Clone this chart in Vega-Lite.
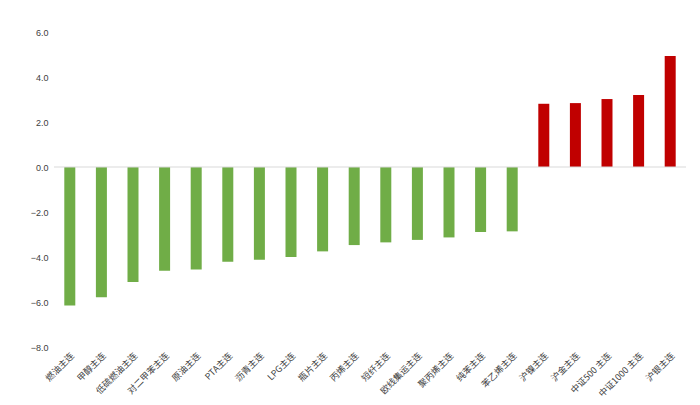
{
  "$schema": "https://vega.github.io/schema/vega-lite/v6.json",
  "width": 632,
  "height": 315,
  "autosize": {"type": "none"},
  "padding": {"left": 54, "top": 32, "right": 14, "bottom": 58},
  "background": "white",
  "config": {"view": {"stroke": null}, "font": "Noto Sans CJK SC"},
  "data": {"values": [
    {"name": "燃油主连", "v": -6.15},
    {"name": "甲醇主连", "v": -5.79},
    {"name": "低硫燃油主连", "v": -5.11},
    {"name": "对二甲苯主连", "v": -4.61},
    {"name": "原油主连", "v": -4.56},
    {"name": "PTA主连", "v": -4.21},
    {"name": "沥青主连", "v": -4.12},
    {"name": "LPG主连", "v": -4.0},
    {"name": "瓶片主连", "v": -3.75},
    {"name": "丙烯主连", "v": -3.47},
    {"name": "短纤主连", "v": -3.35},
    {"name": "欧线集运主连", "v": -3.24},
    {"name": "聚丙烯主连", "v": -3.13},
    {"name": "纯苯主连", "v": -2.89},
    {"name": "苯乙烯主连", "v": -2.86},
    {"name": "沪镍主连", "v": 2.81},
    {"name": "沪金主连", "v": 2.84},
    {"name": "中证500 主连", "v": 3.02},
    {"name": "中证1000 主连", "v": 3.2},
    {"name": "沪银主连", "v": 4.93}
  ]},
  "layer": [
    {
      "mark": {"type": "bar", "width": 11},
      "encoding": {
        "x": {"field": "name", "type": "nominal", "sort": null,
          "axis": {"title": null, "labelAngle": -45, "domain": false, "ticks": false, "labelFontSize": 9, "labelColor": "#404040", "labelPadding": 4, "labelFont": "Noto Sans CJK SC"}},
        "y": {"field": "v", "type": "quantitative", "scale": {"domain": [-8, 6]},
          "axis": {"title": null, "values": [-8, -6, -4, -2, 0, 2, 4, 6], "format": ".1f", "grid": false, "domain": false, "ticks": false, "labelFontSize": 9, "labelColor": "#404040", "labelPadding": 6, "labelFont": "Liberation Sans"}},
        "color": {"condition": {"test": "datum.v < 0", "value": "#70ad47"}, "value": "#c00000"}
      }
    },
    {
      "data": {"values": [{"z": 0}]},
      "mark": {"type": "rule", "color": "#d9d9d9", "strokeWidth": 1},
      "encoding": {"y": {"field": "z", "type": "quantitative"}}
    }
  ]
}
